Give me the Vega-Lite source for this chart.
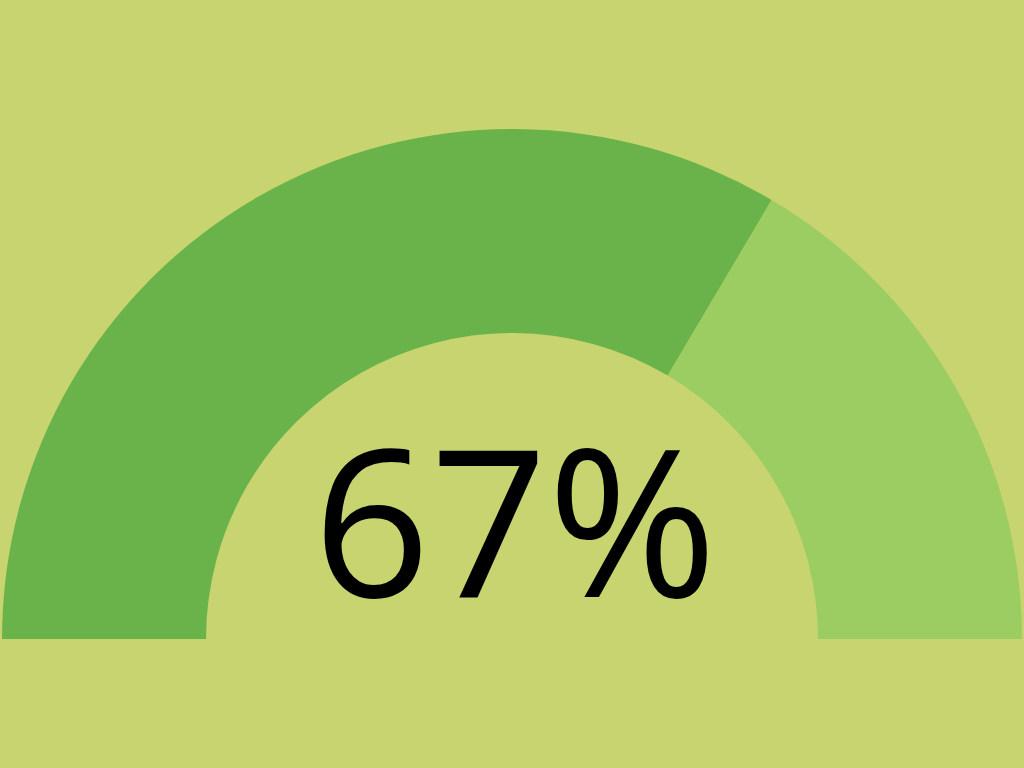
{
  "$schema": "https://vega.github.io/schema/vega-lite/v6.json",
  "autosize": {"type": "fit", "contains": "padding"},
  "width": 1024,
  "height": 768,
  "padding": 0,
  "background": "#c7d470",
  "config": {"view": {"stroke": null}},
  "layer": [
    {
      "data": {"values": [
        {"segment": "value", "share": 67, "rank": 1},
        {"segment": "rest", "share": 33, "rank": 2}
      ]},
      "mark": {"type": "arc", "outerRadius": 510, "innerRadius": 306, "x": {"expr": "width/2"}, "y": {"expr": "height*639/768"}},
      "encoding": {
        "theta": {"field": "share", "type": "quantitative", "stack": true, "scale": {"domain": [0, 100], "range": [-1.5707963, 1.5707963]}},
        "order": {"field": "rank", "type": "quantitative"},
        "color": {"field": "segment", "type": "nominal", "scale": {"domain": ["value", "rest"], "range": ["#6ab34a", "#9ccd62"]}, "legend": null}
      }
    },
    {
      "data": {"values": [{"label": "67%"}]},
      "mark": {"type": "text", "font": "Open Sans", "fontSize": 205, "fontWeight": "normal", "color": "#000000", "align": "center", "baseline": "alphabetic", "x": {"expr": "width/2 + 3"}, "y": {"expr": "height*597/768"}},
      "encoding": {"text": {"field": "label", "type": "nominal"}}
    }
  ]
}
